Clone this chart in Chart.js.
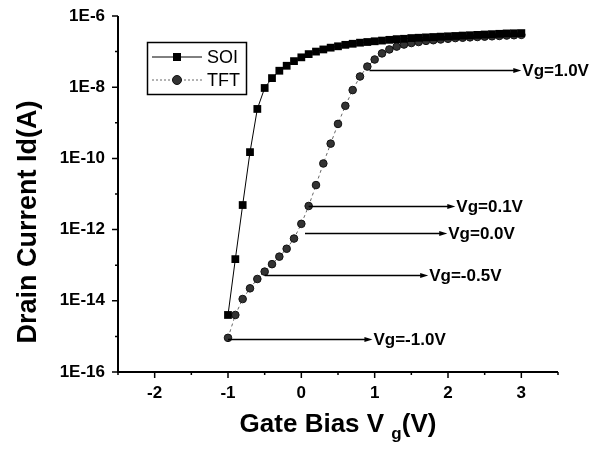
<!DOCTYPE html>
<html>
<head>
  <title>Drain Current vs Gate Bias</title>
  <style>
    body {
      margin: 0;
      padding: 0;
      background-color: white;
    }

    #chart {
      display: block;
    }
  </style>
</head>
<body>
  <canvas id="chart" width="594" height="453"></canvas>

  <script src="https://cdn.jsdelivr.net/npm/chart.js"></script>
  <script>
    // gate bias steps (V)
    const gateBias = [-1.0, -0.9, -0.8, -0.7, -0.6, -0.5, -0.4, -0.3, -0.2, -0.1,
      0.0, 0.1, 0.2, 0.3, 0.4, 0.5, 0.6, 0.7, 0.8, 0.9, 1.0,
      1.1, 1.2, 1.3, 1.4, 1.5, 1.6, 1.7, 1.8, 1.9, 2.0,
      2.1, 2.2, 2.3, 2.4, 2.5, 2.6, 2.7, 2.8, 2.9, 3.0];

    // drain current (A)
    const soiCurrent = [4.0e-15, 1.48e-13, 4.9e-12, 1.5e-10, 2.45e-9, 9.5e-9, 1.8e-8, 2.9e-8, 4.0e-8, 5.4e-8,
      6.9e-8, 8.5e-8, 1.0e-7, 1.15e-7, 1.29e-7, 1.41e-7, 1.55e-7, 1.66e-7, 1.78e-7, 1.86e-7, 1.95e-7,
      2.04e-7, 2.14e-7, 2.24e-7, 2.29e-7, 2.4e-7, 2.45e-7, 2.51e-7, 2.57e-7, 2.63e-7, 2.69e-7,
      2.75e-7, 2.82e-7, 2.88e-7, 2.95e-7, 3.02e-7, 3.09e-7, 3.16e-7, 3.24e-7, 3.27e-7, 3.31e-7];

    const tftCurrent = [9.1e-16, 4.0e-15, 1.12e-14, 2.24e-14, 4.1e-14, 6.6e-14, 1.07e-13, 1.74e-13, 2.9e-13, 5.6e-13,
      1.45e-12, 4.6e-12, 1.78e-11, 7.2e-11, 2.6e-10, 9.3e-10, 3.0e-9, 8.3e-9, 2.0e-8, 3.8e-8, 6.0e-8,
      8.9e-8, 1.15e-7, 1.38e-7, 1.58e-7, 1.74e-7, 1.86e-7, 2.0e-7, 2.09e-7, 2.19e-7, 2.29e-7,
      2.4e-7, 2.45e-7, 2.51e-7, 2.57e-7, 2.63e-7, 2.69e-7, 2.75e-7, 2.82e-7, 2.88e-7, 2.95e-7];

    const xTicks = [-2, -1, 0, 1, 2, 3];
    const xMinorTicks = [-2.5, -1.5, -0.5, 0.5, 1.5, 2.5, 3.5];
    const yTicks = [1e-16, 1e-14, 1e-12, 1e-10, 1e-8, 1e-6];
    const yMinorTicks = [1e-15, 1e-13, 1e-11, 1e-9, 1e-7];

    // arrow annotations: label, start bias, end bias, current level
    const arrowLabels = ["Vg=1.0V", "Vg=0.1V", "Vg=0.0V", "Vg=-0.5V", "Vg=-1.0V"];
    const arrowFrom = [0.93, 0.1, 0.05, -0.5, -1.0];
    const arrowTo = [3.0, 2.1, 1.99, 1.73, 0.97];
    const arrowLevel = [3.0e-8, 4.6e-12, 7.9e-13, 5.4e-14, 8.5e-16];

    const FONT = "'Liberation Sans', Arial, sans-serif";

    const decorations = {
      id: "decorations",
      afterDraw(chart) {
        const ctx = chart.ctx;
        const area = chart.chartArea;
        const xs = chart.scales.x;
        const ys = chart.scales.y;
        ctx.save();
        ctx.strokeStyle = "#000";
        ctx.fillStyle = "#000";

        // axis lines
        ctx.lineWidth = 2;
        ctx.beginPath();
        ctx.moveTo(area.left, area.top);
        ctx.lineTo(area.left, area.bottom);
        ctx.lineTo(area.right, area.bottom);
        ctx.stroke();

        // ticks
        ctx.lineWidth = 1.5;
        ctx.beginPath();
        xTicks.forEach(v => { const p = xs.getPixelForValue(v); ctx.moveTo(p, area.bottom); ctx.lineTo(p, area.bottom + 6); });
        xMinorTicks.forEach(v => { const p = xs.getPixelForValue(v); ctx.moveTo(p, area.bottom); ctx.lineTo(p, area.bottom + 3); });
        yTicks.forEach(v => { const p = ys.getPixelForValue(v); ctx.moveTo(area.left, p); ctx.lineTo(area.left - 6, p); });
        yMinorTicks.forEach(v => { const p = ys.getPixelForValue(v); ctx.moveTo(area.left, p); ctx.lineTo(area.left - 3, p); });
        ctx.stroke();

        // arrows
        ctx.font = "bold 17px " + FONT;
        ctx.textBaseline = "middle";
        ctx.textAlign = "left";
        arrowLabels.forEach((label, i) => {
          const x1 = xs.getPixelForValue(arrowFrom[i]);
          const x2 = xs.getPixelForValue(arrowTo[i]);
          const y = Math.round(ys.getPixelForValue(arrowLevel[i])) + 0.5;
          ctx.lineWidth = 1.5;
          ctx.beginPath();
          ctx.moveTo(x1, y);
          ctx.lineTo(x2 - 6, y);
          ctx.stroke();
          ctx.beginPath();
          ctx.moveTo(x2, y);
          ctx.lineTo(x2 - 8, y - 2.5);
          ctx.lineTo(x2 - 8, y + 2.5);
          ctx.closePath();
          ctx.fill();
          ctx.fillText(label, x2 + 1, y + 1);
        });

        // x title with subscript
        const cx = (area.left + area.right) / 2;
        const main = "Gate Bias V";
        const tail = "(V)";
        ctx.font = "bold 26px " + FONT;
        const wMain = ctx.measureText(main + " ").width;
        const wTail = ctx.measureText(tail).width;
        ctx.font = "bold 17px " + FONT;
        const wSub = ctx.measureText("g").width;
        let x = cx - (wMain + wSub + wTail) / 2;
        const base = 432;
        ctx.textBaseline = "alphabetic";
        ctx.font = "bold 26px " + FONT;
        ctx.fillText(main, x, base);
        ctx.font = "bold 17px " + FONT;
        ctx.fillText("g", x + wMain, base + 7);
        ctx.font = "bold 26px " + FONT;
        ctx.fillText(tail, x + wMain + wSub, base);

        // y title
        ctx.save();
        ctx.translate(29, 222);
        ctx.rotate(-Math.PI / 2);
        ctx.textAlign = "center";
        ctx.textBaseline = "middle";
        ctx.font = "bold 27px " + FONT;
        ctx.fillText("Drain Current Id(A)", 0, 0);
        ctx.restore();

        // legend box
        const lx = area.left + 29;
        const ly = 42;
        ctx.lineWidth = 1.5;
        ctx.strokeRect(lx + 0.5, ly + 0.5, 99, 52);
        ctx.font = "18px " + FONT;
        ctx.textBaseline = "middle";
        ctx.textAlign = "left";
        // SOI
        ctx.lineWidth = 1;
        ctx.beginPath();
        ctx.moveTo(lx + 5, ly + 15);
        ctx.lineTo(lx + 55, ly + 15);
        ctx.stroke();
        ctx.fillRect(lx + 26, ly + 11, 8, 8);
        ctx.fillText("SOI", lx + 60, ly + 16);
        // TFT
        ctx.strokeStyle = "#666";
        ctx.setLineDash([2, 2]);
        ctx.beginPath();
        ctx.moveTo(lx + 5, ly + 38);
        ctx.lineTo(lx + 55, ly + 38);
        ctx.stroke();
        ctx.setLineDash([]);
        ctx.fillStyle = "#333";
        ctx.strokeStyle = "#111";
        ctx.beginPath();
        ctx.arc(lx + 30, ly + 38, 4.5, 0, Math.PI * 2);
        ctx.fill();
        ctx.stroke();
        ctx.fillStyle = "#000";
        ctx.fillText("TFT", lx + 60, ly + 39);

        ctx.restore();
      }
    };

    new Chart(document.getElementById("chart").getContext("2d"), {
      type: "line",
      data: {
        datasets: [
          {
            label: "SOI",
            data: gateBias.map((v, i) => ({ x: v, y: soiCurrent[i] })),
            borderColor: "#000",
            borderWidth: 1,
            backgroundColor: "#000",
            pointStyle: "rect",
            pointRadius: 5.5,
            pointBorderWidth: 0,
          },
          {
            label: "TFT",
            data: gateBias.map((v, i) => ({ x: v, y: tftCurrent[i] })),
            borderColor: "#666",
            borderWidth: 1,
            borderDash: [3, 3],
            backgroundColor: "#333",
            pointBorderColor: "#111",
            pointBorderWidth: 1,
            pointStyle: "circle",
            pointRadius: 3.8,
          },
        ],
      },
      options: {
        responsive: false,
        animation: false,
        layout: { padding: { top: 16, right: 36, left: 0, bottom: 0 } },
        plugins: {
          legend: { display: false },
          tooltip: { enabled: false },
        },
        scales: {
          x: {
            type: "linear",
            min: -2.5,
            max: 3.5,
            afterBuildTicks: s => { s.ticks = xTicks.map(v => ({ value: v })); },
            afterFit: s => { s.height = 81; s.paddingLeft = 0; s.paddingRight = 0; },
            grid: { display: false, drawTicks: false },
            border: { display: false },
            ticks: {
              padding: 11,
              color: "#000",
              font: { family: FONT, size: 17, weight: "bold" },
              maxRotation: 0,
            },
          },
          y: {
            type: "logarithmic",
            min: 1e-16,
            max: 1e-6,
            afterBuildTicks: s => { s.ticks = yTicks.map(v => ({ value: v })); },
            afterFit: s => { s.width = 118; s.paddingTop = 0; s.paddingBottom = 0; },
            grid: { display: false, drawTicks: false },
            border: { display: false },
            ticks: {
              padding: 13,
              color: "#000",
              font: { family: FONT, size: 17, weight: "bold" },
              callback: v => "1E" + Math.round(Math.log10(v)),
            },
          },
        },
      },
      plugins: [decorations],
    });
  </script>
